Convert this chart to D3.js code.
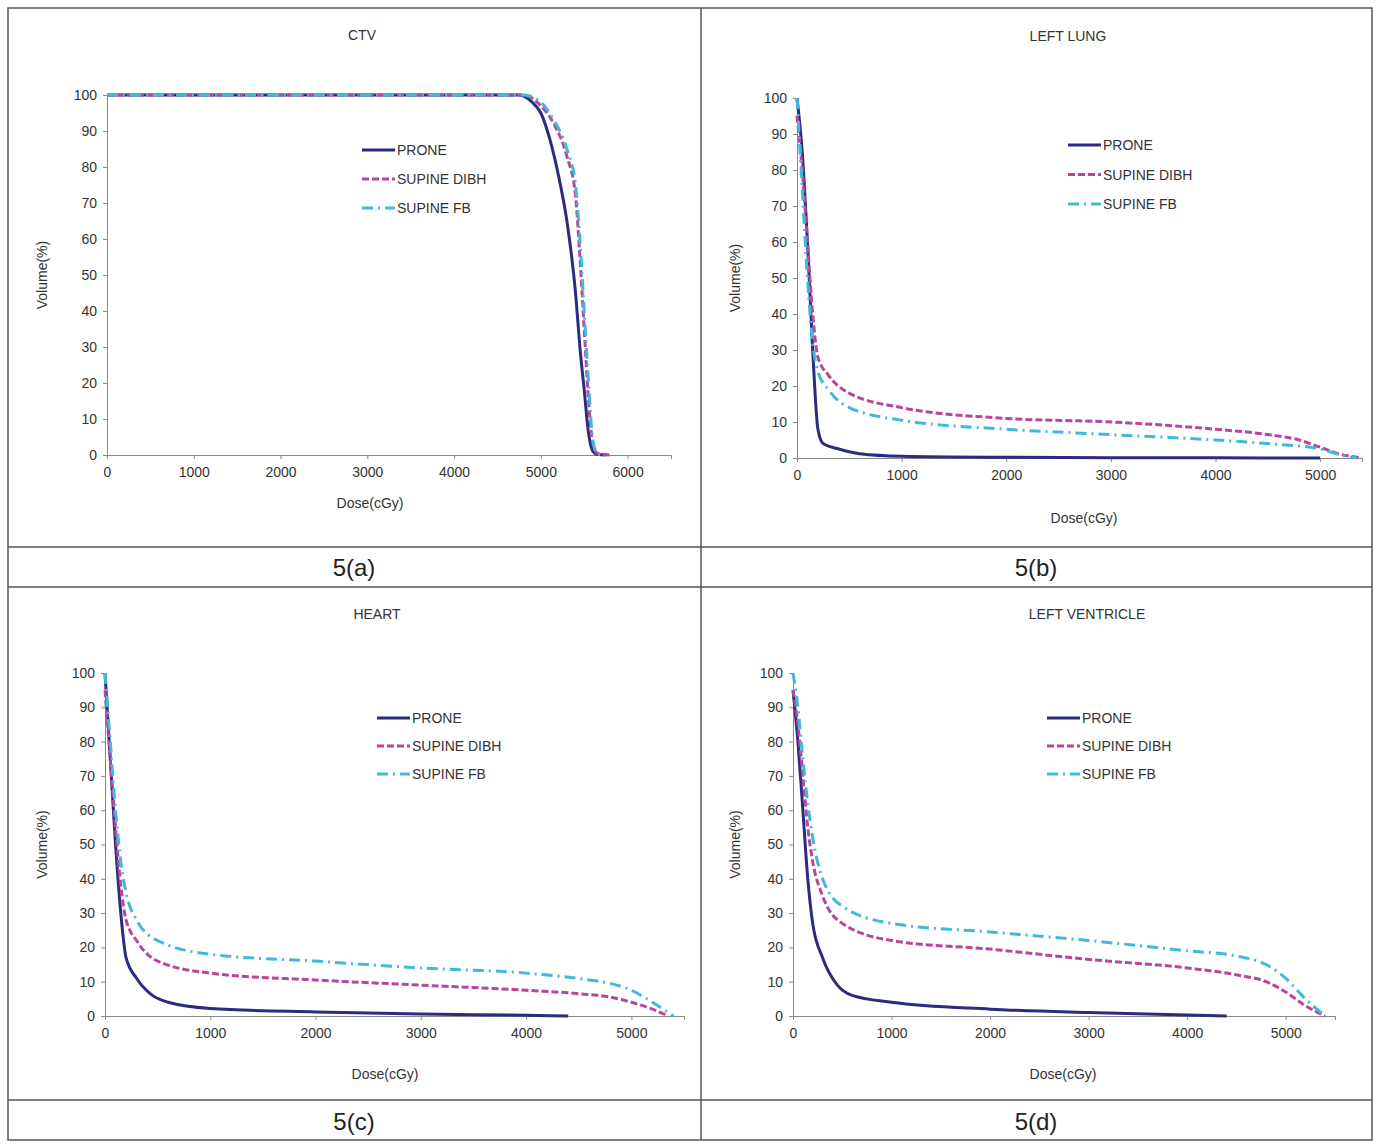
<!DOCTYPE html>
<html><head><meta charset="utf-8">
<script src="https://cdn.jsdelivr.net/npm/d3@7"></script>
<style>body{margin:0;background:#fff}text{font-family:"Liberation Sans",Arial,sans-serif;fill:#333}</style>
</head><body><svg id="c" width="1381" height="1146"></svg>
<script>
const seriesNames=["PRONE","SUPINE DIBH","SUPINE FB"];
const titles=["CTV","LEFT LUNG","HEART","LEFT VENTRICLE"];
const panelLabels=["5(a)","5(b)","5(c)","5(d)"];
const xTicksA=[0,1000,2000,3000,4000,5000,6000];
const xTicksB=[0,1000,2000,3000,4000,5000];
const yTicks=[0,10,20,30,40,50,60,70,80,90,100];
const ctvProne=[[0,100],[4750,100],[4900,98],[5000,95],[5100,88],[5200,78],[5300,65],[5400,45],[5450,30],[5500,18],[5550,6],[5600,1],[5650,0.2],[5750,0]];
const ctvDibh=[[0,100],[4800,100],[5000,97],[5150,92],[5300,83],[5400,72],[5450,55],[5500,35],[5550,15],[5600,3],[5650,0.5],[5800,0]];
const ctvFb=[[0,100],[4800,100],[5000,98],[5150,93],[5300,85],[5400,75],[5450,60],[5500,40],[5550,20],[5600,4],[5650,0.5],[5700,0]];
const lungProne=[[0,100],[50,85],[100,60],[150,30],[200,8],[250,4],[400,2.5],[600,1.2],[1000,0.5],[2000,0.2],[3000,0.1],[4000,0.05],[5000,0]];
const lungDibh=[[0,95],[50,80],[100,60],[150,40],[200,28],[300,23],[500,18],[1000,14],[2000,11],[3000,10],[4000,8],[4500,6.5],[4800,5],[5000,3],[5200,1],[5400,0]];
const lungFb=[[0,100],[50,75],[100,50],[150,32],[200,24],[300,19],[500,14],[1000,10.5],[2000,8],[3000,6.5],[4000,5],[4500,4],[5000,2.5],[5200,0.8],[5350,0]];
const heartProne=[[0,100],[50,75],[100,50],[150,30],[200,17],[300,11],[450,6],[600,4],[1000,2.2],[2000,1.2],[3000,0.6],[4000,0.2],[4400,0]];
const heartDibh=[[0,95],[50,75],[100,55],[150,38],[200,28],[300,22],[500,16],[1000,12.5],[2000,10.5],[3000,9],[4000,7.5],[4500,6.5],[4800,5.5],[5000,4],[5200,2],[5350,0]];
const heartFb=[[0,100],[50,80],[100,60],[150,45],[200,36],[300,28],[500,22],[1000,18],[2000,16],[3000,14],[4000,12.5],[4600,10.5],[4800,9.5],[5000,7.5],[5200,4],[5400,0]];
const lvProne=[[0,95],[50,80],[100,60],[150,40],[200,27],[300,17],[450,9],[600,6],[1000,4],[2000,2],[3000,1],[4000,0.3],[4400,0]];
const lvDibh=[[0,95],[50,85],[100,70],[150,55],[200,45],[300,35],[500,27],[1000,22],[2000,19.5],[3000,16.5],[4000,14],[4500,12],[4800,10],[5000,7],[5200,3],[5400,0]];
const lvFb=[[0,100],[50,90],[100,75],[150,62],[200,52],[300,40],[500,32],[1000,27],[2000,24.5],[3000,22],[4000,19],[4500,17.5],[4800,15],[5000,11],[5200,5],[5400,0]];

const colors=["#2b2b80","#b8479c","#42b9d9"];
const dashes=[null,"7,3","11,5,2,5"];
const svg=d3.select("#c");
// table
svg.append("rect").attr("x",8).attr("y",8).attr("width",1364).attr("height",1132).attr("fill","none").attr("stroke","#555").attr("stroke-width",1.5);
[[701,8,701,1140],[8,547,1372,547],[8,587,1372,587],[8,1100,1372,1100]].forEach(l=>svg.append("line").attr("x1",l[0]).attr("y1",l[1]).attr("x2",l[2]).attr("y2",l[3]).attr("stroke","#555").attr("stroke-width",1.5));
const labelPos=[[354,567],[1036,567],[354,1121],[1036,1121]];
panelLabels.forEach((t,i)=>svg.append("text").attr("x",labelPos[i][0]).attr("y",labelPos[i][1]).attr("text-anchor","middle").attr("dominant-baseline","central").style("font-size","24px").style("fill","#222").text(t));

const panels=[
 {data:[ctvProne,ctvDibh,ctvFb],x0:107,x1:671,dmax:6500,ticks:xTicksA,y0:455,y1:95,title:[362,35],yl:42,xl:[370,503],leg:[362,150,29]},
 {data:[lungProne,lungDibh,lungFb],x0:797,x1:1362,dmax:5400,ticks:xTicksB,y0:458,y1:98,title:[1068,36],yl:735,xl:[1084,518],leg:[1068,145,29.5]},
 {data:[heartProne,heartDibh,heartFb],x0:105,x1:684,dmax:5500,ticks:xTicksB,y0:1016,y1:673,title:[377,614],yl:42,xl:[385,1074],leg:[377,718,28]},
 {data:[lvProne,lvDibh,lvFb],x0:793,x1:1335,dmax:5500,ticks:xTicksB,y0:1016,y1:673,title:[1087,614],yl:735,xl:[1063,1074],leg:[1047,718,28]}
];
panels.forEach((p,i)=>{
 const x=d3.scaleLinear().domain([0,p.dmax]).range([p.x0,p.x1]);
 const y=d3.scaleLinear().domain([0,100]).range([p.y0,p.y1]);
 const g=svg.append("g");
 const xa=g.append("g").attr("transform",`translate(0,${p.y0})`).call(d3.axisBottom(x).tickValues(p.ticks).tickSize(4).tickPadding(8).tickFormat(d3.format("d")));
 const ya=g.append("g").attr("transform",`translate(${p.x0},0)`).call(d3.axisLeft(y).tickValues(yTicks).tickSize(4).tickPadding(6));
 [xa,ya].forEach(a=>{a.select(".domain").attr("stroke","#888");a.selectAll("line").attr("stroke","#888");a.selectAll("text").style("font-size","14px").style("fill","#333");});
 const line=d3.line().x(d=>x(d[0])).y(d=>y(d[1])).curve(d3.curveMonotoneX);
 p.data.forEach((s,k)=>g.append("path").datum(s).attr("d",line).attr("fill","none").attr("stroke",colors[k]).attr("stroke-width",3).attr("stroke-dasharray",dashes[k]));
 g.append("text").attr("x",p.title[0]).attr("y",p.title[1]).attr("text-anchor","middle").attr("dominant-baseline","central").style("font-size","14px").text(titles[i]);
 g.append("text").attr("x",p.xl[0]).attr("y",p.xl[1]).attr("text-anchor","middle").attr("dominant-baseline","central").style("font-size","14px").text("Dose(cGy)");
 g.append("text").attr("transform",`translate(${p.yl},${(p.y0+p.y1)/2}) rotate(-90)`).attr("text-anchor","middle").attr("dominant-baseline","central").style("font-size","14px").text("Volume(%)");
 seriesNames.forEach((n,k)=>{
  const ly=p.leg[1]+k*p.leg[2];
  g.append("line").attr("x1",p.leg[0]).attr("x2",p.leg[0]+33).attr("y1",ly).attr("y2",ly).attr("stroke",colors[k]).attr("stroke-width",3).attr("stroke-dasharray",dashes[k]);
  g.append("text").attr("x",p.leg[0]+35).attr("y",ly).attr("dominant-baseline","central").style("font-size","14px").text(n);
 });
});
</script></body></html>
